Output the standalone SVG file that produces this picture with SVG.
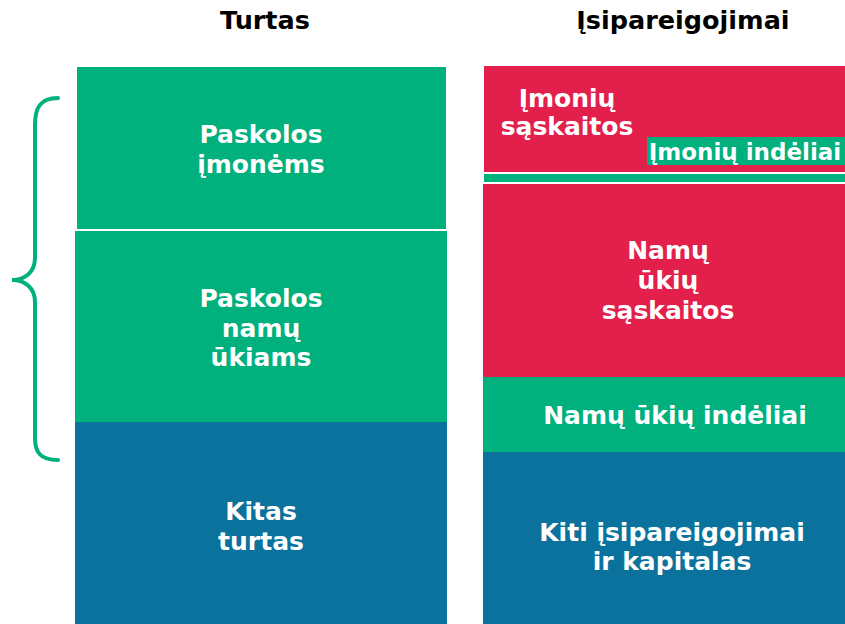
<svg xmlns="http://www.w3.org/2000/svg" width="845" height="624" viewBox="0 0 845 624">
<style>
.g{fill:#00B07D}.r{fill:#E31F4B}.b{fill:#0B729D}
text{font-family:"DejaVu Sans","Verdana",sans-serif;font-weight:bold;text-anchor:middle}
.w{fill:#ffffff;font-size:25px}
.h{fill:#000000;font-size:25.5px}
.s{fill:#ffffff;font-size:23px}
</style>
<rect width="845" height="624" fill="#ffffff"/>
<text class="h" x="265" y="29">Turtas</text>
<text class="h" x="683" y="29">Įsipareigojimai</text>
<g id="paskolos-imonems">
<rect class="g" x="77" y="67" width="369" height="162"/>
<text class="w" x="261" y="143">Paskolos</text>
<text class="w" x="261" y="173">įmonėms</text>
</g>
<g id="paskolos-namu-ukiams">
<rect class="g" x="75" y="231" width="372" height="191"/>
<text class="w" x="261" y="307">Paskolos</text>
<text class="w" x="261" y="337">namų</text>
<text class="w" x="261" y="366">ūkiams</text>
</g>
<g id="kitas-turtas">
<rect class="b" x="75" y="422" width="372" height="202"/>
<text class="w" x="261" y="520">Kitas</text>
<text class="w" x="261" y="550">turtas</text>
</g>
<g id="imoniu-saskaitos">
<rect class="r" x="484" y="66" width="361" height="106"/>
<text class="w" x="567" y="107">Įmonių</text>
<text class="w" x="567" y="135">sąskaitos</text>
</g>
<g id="imoniu-indeliai">
<rect class="g" x="647" y="137" width="198" height="28"/>
<rect class="g" x="484" y="174" width="361" height="8"/>
<text class="s" x="745" y="160">Įmonių indėliai</text>
</g>
<g id="namu-ukiu-saskaitos">
<rect class="r" x="483" y="184" width="362" height="193"/>
<text class="w" x="668" y="259">Namų</text>
<text class="w" x="668" y="289">ūkių</text>
<text class="w" x="668" y="319">sąskaitos</text>
</g>
<g id="namu-ukiu-indeliai">
<rect class="g" x="483" y="377" width="362" height="75"/>
<text class="w" x="675" y="424">Namų ūkių indėliai</text>
</g>
<g id="kiti-isipareigojimai">
<rect class="b" x="483" y="452" width="362" height="172"/>
<text class="w" x="672" y="541">Kiti įsipareigojimai</text>
<text class="w" x="672" y="570">ir kapitalas</text>
</g>
<g id="connectors">
<path d="M58,98 C40,98 35,108 35,125 L35,258 C35,272 25,280 12,280 C25,280 35,288 35,302 L35,438 C35,452 40,460 58,460" fill="none" stroke="#00B07D" stroke-width="4" stroke-linecap="round"/>
</g>
</svg>
